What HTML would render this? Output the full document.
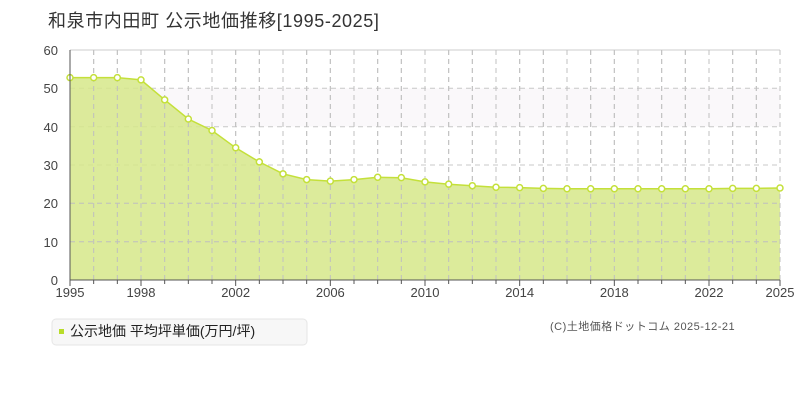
<!DOCTYPE html>
<html><head><meta charset="utf-8"><style>
body{margin:0;background:#fff;width:800px;height:400px;overflow:hidden;font-family:"Liberation Sans","Noto Sans CJK JP",sans-serif}
</style></head><body>
<svg width="800" height="400" xmlns="http://www.w3.org/2000/svg" font-family="Liberation Sans, Noto Sans CJK JP, sans-serif">
<text x="48" y="27" font-size="18" fill="#333" letter-spacing="0.6">和泉市内田町 公示地価推移[1995-2025]</text>
<rect x="70" y="88.3" width="710" height="38.3" fill="#faf8fa"/>
<line x1="70" y1="50" x2="780" y2="50" stroke="#ddd" stroke-width="1.5"/>
<g stroke="#c8c8c8" stroke-dasharray="5,4" stroke-width="1">
<line x1="70" y1="88.3" x2="780" y2="88.3"/><line x1="70" y1="126.7" x2="780" y2="126.7"/><line x1="70" y1="165" x2="780" y2="165"/><line x1="70" y1="203.3" x2="780" y2="203.3"/><line x1="70" y1="241.7" x2="780" y2="241.7"/>
</g>
<g id="vg" stroke="#c8c8c8" stroke-dasharray="5,4" stroke-width="1"></g>
<path id="area" fill="#d6e88a" fill-opacity="0.85" stroke="none"/>
<g id="vg2" stroke="#c0c0c0" stroke-dasharray="5,4" stroke-width="1"></g>
<g stroke="#c0c0c0" stroke-dasharray="5,4" stroke-width="1">
<line x1="70" y1="203.3" x2="780" y2="203.3"/><line x1="70" y1="241.7" x2="780" y2="241.7"/>
</g>
<polyline id="line" fill="none" stroke="#c4e03a" stroke-width="1.5"/>
<g id="pts"></g>
<line x1="70" y1="50" x2="70" y2="280" stroke="#555"/>
<line x1="70" y1="280" x2="780" y2="280" stroke="#555"/>
<g font-size="13" fill="#444" text-anchor="end">
<text x="58" y="55">60</text><text x="58" y="93">50</text><text x="58" y="132">40</text><text x="58" y="170">30</text><text x="58" y="208">20</text><text x="58" y="247">10</text><text x="58" y="285">0</text>
</g>
<g id="xt" font-size="13" fill="#444" text-anchor="middle"></g>
<rect x="52" y="319" width="255" height="26" rx="4" fill="#f7f7f7" stroke="#e6e6e6"/>
<rect x="59" y="329" width="5" height="5" fill="#b8dc2a"/>
<text x="70" y="336" font-size="14" fill="#222">公示地価 平均坪単価(万円/坪)</text>
<text x="550" y="330" font-size="11" fill="#555" letter-spacing="0.5">(C)土地価格ドットコム 2025-12-21</text>
</svg>
<script>
const d=[52.8,52.8,52.8,52.2,47,42,39,34.5,30.8,27.7,26.2,25.8,26.2,26.8,26.7,25.6,25,24.6,24.2,24.1,23.9,23.8,23.8,23.8,23.8,23.8,23.8,23.8,23.9,23.9,24];
const X=i=>70+i*710/30,Y=v=>280-v*230/60,ns="http://www.w3.org/2000/svg";
let pts=d.map((v,i)=>X(i).toFixed(1)+","+Y(v).toFixed(1));
document.getElementById('line').setAttribute('points',pts.join(' '));
document.getElementById('area').setAttribute('d','M70,280L'+pts.join('L')+'L780,280Z');
const vg=document.getElementById('vg'),vg2=document.getElementById('vg2'),g=document.getElementById('pts'),xt=document.getElementById('xt');
for(let i=1;i<=30;i++){for(const p of[vg,vg2]){let l=document.createElementNS(ns,'line');l.setAttribute('x1',X(i));l.setAttribute('x2',X(i));l.setAttribute('y1',50);l.setAttribute('y2',280);p.appendChild(l);}}
for(let i=0;i<=30;i++){let t=document.createElementNS(ns,'line');t.setAttribute('x1',X(i));t.setAttribute('x2',X(i));t.setAttribute('y1',280);t.setAttribute('y2',i%4==3||i==0||i==30?286:284);t.setAttribute('stroke','#555');xt.appendChild(t);}
d.forEach((v,i)=>{let c=document.createElementNS(ns,'circle');c.setAttribute('cx',X(i));c.setAttribute('cy',Y(v));c.setAttribute('r',3);c.setAttribute('fill','#fff');c.setAttribute('stroke','#c4e03a');c.setAttribute('stroke-width',1.5);g.appendChild(c);});
[0,3,7,11,15,19,23,27,30].forEach(i=>{let t=document.createElementNS(ns,'text');t.setAttribute('x',X(i));t.setAttribute('y',297);t.textContent=1995+i;xt.appendChild(t);});
</script>
</body></html>
